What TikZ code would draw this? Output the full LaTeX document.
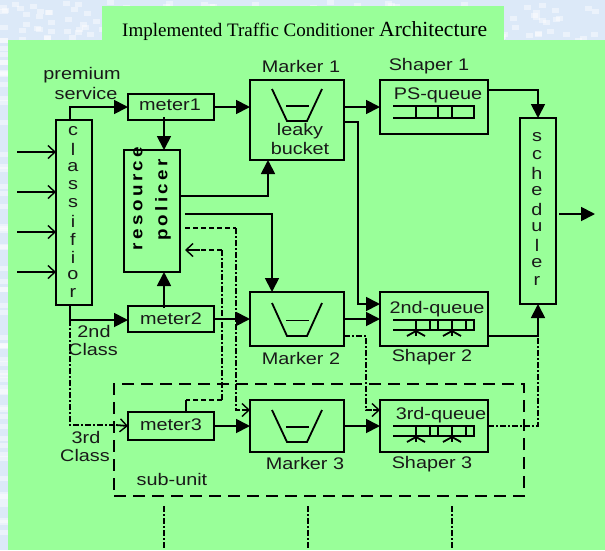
\documentclass[tikz,border=0pt]{standalone}
\usepackage{fontspec}
\setmainfont{Liberation Sans}
\newfontfamily\titlefont{Liberation Serif}
\newfontfamily\widefont[FakeStretch=1.18]{Liberation Sans}
\newfontfamily\spacedbold[LetterSpace=20,FakeStretch=1.12,BoldFont={Liberation Sans Bold}]{Liberation Sans}
\usetikzlibrary{arrows.meta,calc}
\definecolor{panel}{HTML}{99FF99}
\definecolor{sky}{HTML}{DCE9F8}
\tikzset{
  x=1pt,y=-1pt,
  wire/.style={line width=1.8pt,draw=black},
  solidhead/.style={wire,-{Triangle[length=14pt,width=14pt]}},
  openhead/.style={wire,-{Straight Barb[length=7pt,width=13pt,line width=1.4pt]}},
  dashwire/.style={wire,dash pattern=on 5pt off 3pt},
  dotwire/.style={wire,dash pattern=on 6pt off 2pt on 2pt off 2pt},
  blockbox/.style={draw=black,line width=1.8pt,outer sep=0pt,inner sep=0pt,fill=panel},
  lab/.style={font=\widefont\fontsize{16.8}{18}\selectfont,inner sep=0pt,text=black!90},
  stack/.style={font=\widefont\fontsize{16.8}{18}\selectfont,inner sep=0pt,text=black!90},
}
\newcommand{\blockat}[5]{\node[blockbox,minimum width=#4-#2,minimum height=#5-#3] (#1) at ({(#2+#4)/2},{(#3+#5)/2}) {};}
\newcommand{\bucketat}[2]{%
  \draw[wire] (272,#1) -- (287,#2) -- (307,#2) -- (322,#1);
  \draw[wire] (286,{(#1+#2)/2+1}) -- (309,{(#1+#2)/2+1});}
\newcommand{\stackletters}[4]{%
  \foreach \ch [count=\k from 0] in {#4} {\node[stack] at (#1,{#2+\k*#3}) {\ch};}}
\begin{document}
\begin{tikzpicture}
\useasboundingbox (0,0) rectangle (605,550);
\fill[sky] (0,0) rectangle (605,550);
\pgfmathsetseed{7}
\foreach \i in {1,...,170} {
  \pgfmathsetmacro{\px}{rnd*600}
  \pgfmathsetmacro{\py}{rnd*40}
  \fill[white,opacity=.45] (\px,\py) rectangle +(7,5);
}
\foreach \i in {1,...,60} {
  \pgfmathsetmacro{\py}{rnd*545}
  \fill[white,opacity=.45] (0,\py) rectangle +(8,5);
}
\fill[panel] (102,6) rectangle (504,41);
\fill[panel] (8,40) rectangle (605,550);

% title
\node[anchor=base west,inner sep=0pt] (title) at (122,36) {\titlefont\fontsize{19}{20}\selectfont Implemented Traffic Conditioner \fontsize{21.6}{22}\selectfont Architecture};

% blocks
\blockat{classifier}{56}{120}{92}{305}
\blockat{policer}{124}{150}{180}{272}
\blockat{meterA}{128}{94}{214}{120}
\blockat{markerA}{250}{80}{344}{160}
\blockat{shaperA}{380}{80}{488}{134}
\blockat{scheduler}{520}{118}{556}{304}
\blockat{meterB}{128}{306}{214}{332}
\blockat{markerB}{250}{292}{344}{346}
\blockat{shaperB}{380}{292}{488}{346}
\blockat{meterC}{128}{412}{214}{440}
\blockat{markerC}{250}{400}{344}{452}
\blockat{shaperC}{380}{400}{488}{452}

% sub-unit frame
\node[draw=black,line width=1.8pt,dash pattern=on 12pt off 7pt,minimum width=410,minimum height=112,inner sep=0pt,outer sep=0pt] (subunit) at (319,440) {};

% block texts
\stackletters{73}{131}{18}{c,l,a,s,s,i,f,i,o,r}
\stackletters{537}{137}{18}{s,c,h,e,d,u,l,e,r}
\node[inner sep=0pt,rotate=90] (resource) at (138,198.5) {\spacedbold\fontsize{16.8}{18}\selectfont\bfseries resource};
\node[inner sep=0pt,rotate=90] (policertext) at (163,200) {\spacedbold\fontsize{16.8}{18}\selectfont\bfseries policer};
\node[lab] (tm1) at (170,105) {meter1};
\node[lab] (tm2) at (171,319) {meter2};
\node[lab] (tm3) at (171,425) {meter3};
\node[lab] (tpr) at (82,75) {premium};
\node[lab] (tsv) at (86,93) {service};
\node[lab] (t2a) at (94,331) {2nd};
\node[lab] (t2b) at (93,349) {Class};
\node[lab] (t3a) at (86,437) {3rd};
\node[lab] (t3b) at (85,455) {Class};
\node[lab] (tsub) at (172,479) {sub-unit};
\node[lab] (tma) at (301,66) {Marker 1};
\node[lab] (tmb) at (301,358) {Marker 2};
\node[lab] (tmc) at (305,463) {Marker 3};
\node[lab] (tsa) at (429,66) {Shaper 1};
\node[lab] (tsb) at (432,357) {Shaper 2};
\node[lab] (tsc) at (432,464) {Shaper 3};
\node[lab] (tla) at (300,131) {leaky};
\node[lab] (tlb) at (300,148) {bucket};
\node[lab] (qa) at (438,95) {PS-queue};
\node[lab] (qb) at (437,309) {2nd-queue};
\node[lab] (qc) at (441,415) {3rd-queue};

% buckets
\bucketat{89}{121}
\bucketat{303}{336}
\bucketat{410}{442}

% queues
\draw[wire] (393,106) -- (474,106) -- (474,118) -- (393,118);
\foreach \qx in {416,438,452} \draw[wire] (\qx,106) -- (\qx,118);
\foreach \qt/\qb/\qf in {320/330/336,426/436/442} {
  \draw[wire] (393,\qt) -- (474,\qt) -- (474,\qb) -- (393,\qb);
  \foreach \qx in {430,438,466} \draw[wire] (\qx,\qt) -- (\qx,\qb);
  \foreach \qx in {416,452} {
    \draw[wire] (\qx,\qt) -- (\qx,\qf);
    \draw[wire] (\qx-9,\qf) -- (\qx,\qb+1) -- (\qx+9,\qf);
  }
}

% free ends
\foreach \n/\yy in {1/152,2/192,3/232,4/272} {
  \coordinate (in\n) at (17,\yy);
  \draw[openhead] (in\n) -- (in\n -| classifier.west);
}
\coordinate (out) at (595,214);
\coordinate (outs) at (559,214);
\coordinate (marka) at (0,122);
\coordinate (polA) at (0,196);
\coordinate (polB) at (185,214);
\coordinate (polC) at (185,228);
\coordinate (polD) at (185,250);
\coordinate (markd) at (0,336);
\coordinate (busB) at (358,0);
\coordinate (schedx) at (538,0);
\coordinate (clsx) at (70,0);
\coordinate (lane) at (0,410);

% solid connectors
\draw[solidhead] (clsx |- classifier.north) |- (meterA.west);
\draw[solidhead] (meterA.east) -- (meterA.east -| markerA.west);
\draw[solidhead] (164,117) -- (164,150);
\draw[solidhead] (markerA.east |- meterA.east) -- (meterA.east -| shaperA.west);
\draw[solidhead] (marka -| markerA.east) -- (marka -| busB) -- (358,304) -- (380,304);
\draw[solidhead] (shaperA.east |- 0,90) -| (schedx |- scheduler.north);
\draw[solidhead] (polA -| policer.east) -| (268,160);
\draw[solidhead] (polB) -| (272,292);
\draw[solidhead] (164,308) -- (policer.south -| 164,0);
\draw[wire] (clsx |- classifier.south) -- (70,320);
\draw[solidhead] (70,320) -- (70,320 -| meterB.west);
\draw[solidhead] (meterB.east) -- (meterB.east -| markerB.west);
\draw[solidhead] (markerB.east) -- (markerB.east -| shaperB.west);
\draw[solidhead] (shaperB.east |- markd) -| (schedx |- scheduler.south);
\draw[solidhead] (meterC.east) -- (meterC.east -| markerC.west);
\draw[solidhead] (markerC.east) -- (markerC.east -| shaperC.west);
\draw[solidhead] (outs) -- (out);

% dashed and dash-dotted connectors
\draw[dashwire] (polC) -- (236,228);
\draw[dotwire] (236,228) -- (236,410) -- (243,410);
\draw[openhead] (243,410) -- (markerC.west |- lane);
\draw[openhead] (200,250) -- (polD);
\draw[dashwire] (222,250) -- (200,250);
\draw[dotwire] (222,250) -- (222,400);
\draw[dashwire] (222,400) -- (186,400);
\draw[wire] (186,400) -- (meterC.north -| 186,0);
\draw[dotwire] (70,320) -- (70,425) -- (116,425);
\draw[openhead] (116,425) -- (meterC.west);
\draw[dotwire] (markd -| markerB.east) -- (366,336) -- (366,410) -- (373,410);
\draw[openhead] (373,410) -- (shaperC.west |- lane);
\draw[dotwire] (shaperC.east) -- (538,426) -- (538,336);

% bottom stubs
\foreach \n/\xx in {1/164,2/308,3/452} {
  \coordinate (stubt\n) at (\xx,506);
  \coordinate (stubb\n) at (\xx,548);
  \draw[dotwire] (stubt\n) -- (stubb\n);
}
\end{tikzpicture}
\end{document}
